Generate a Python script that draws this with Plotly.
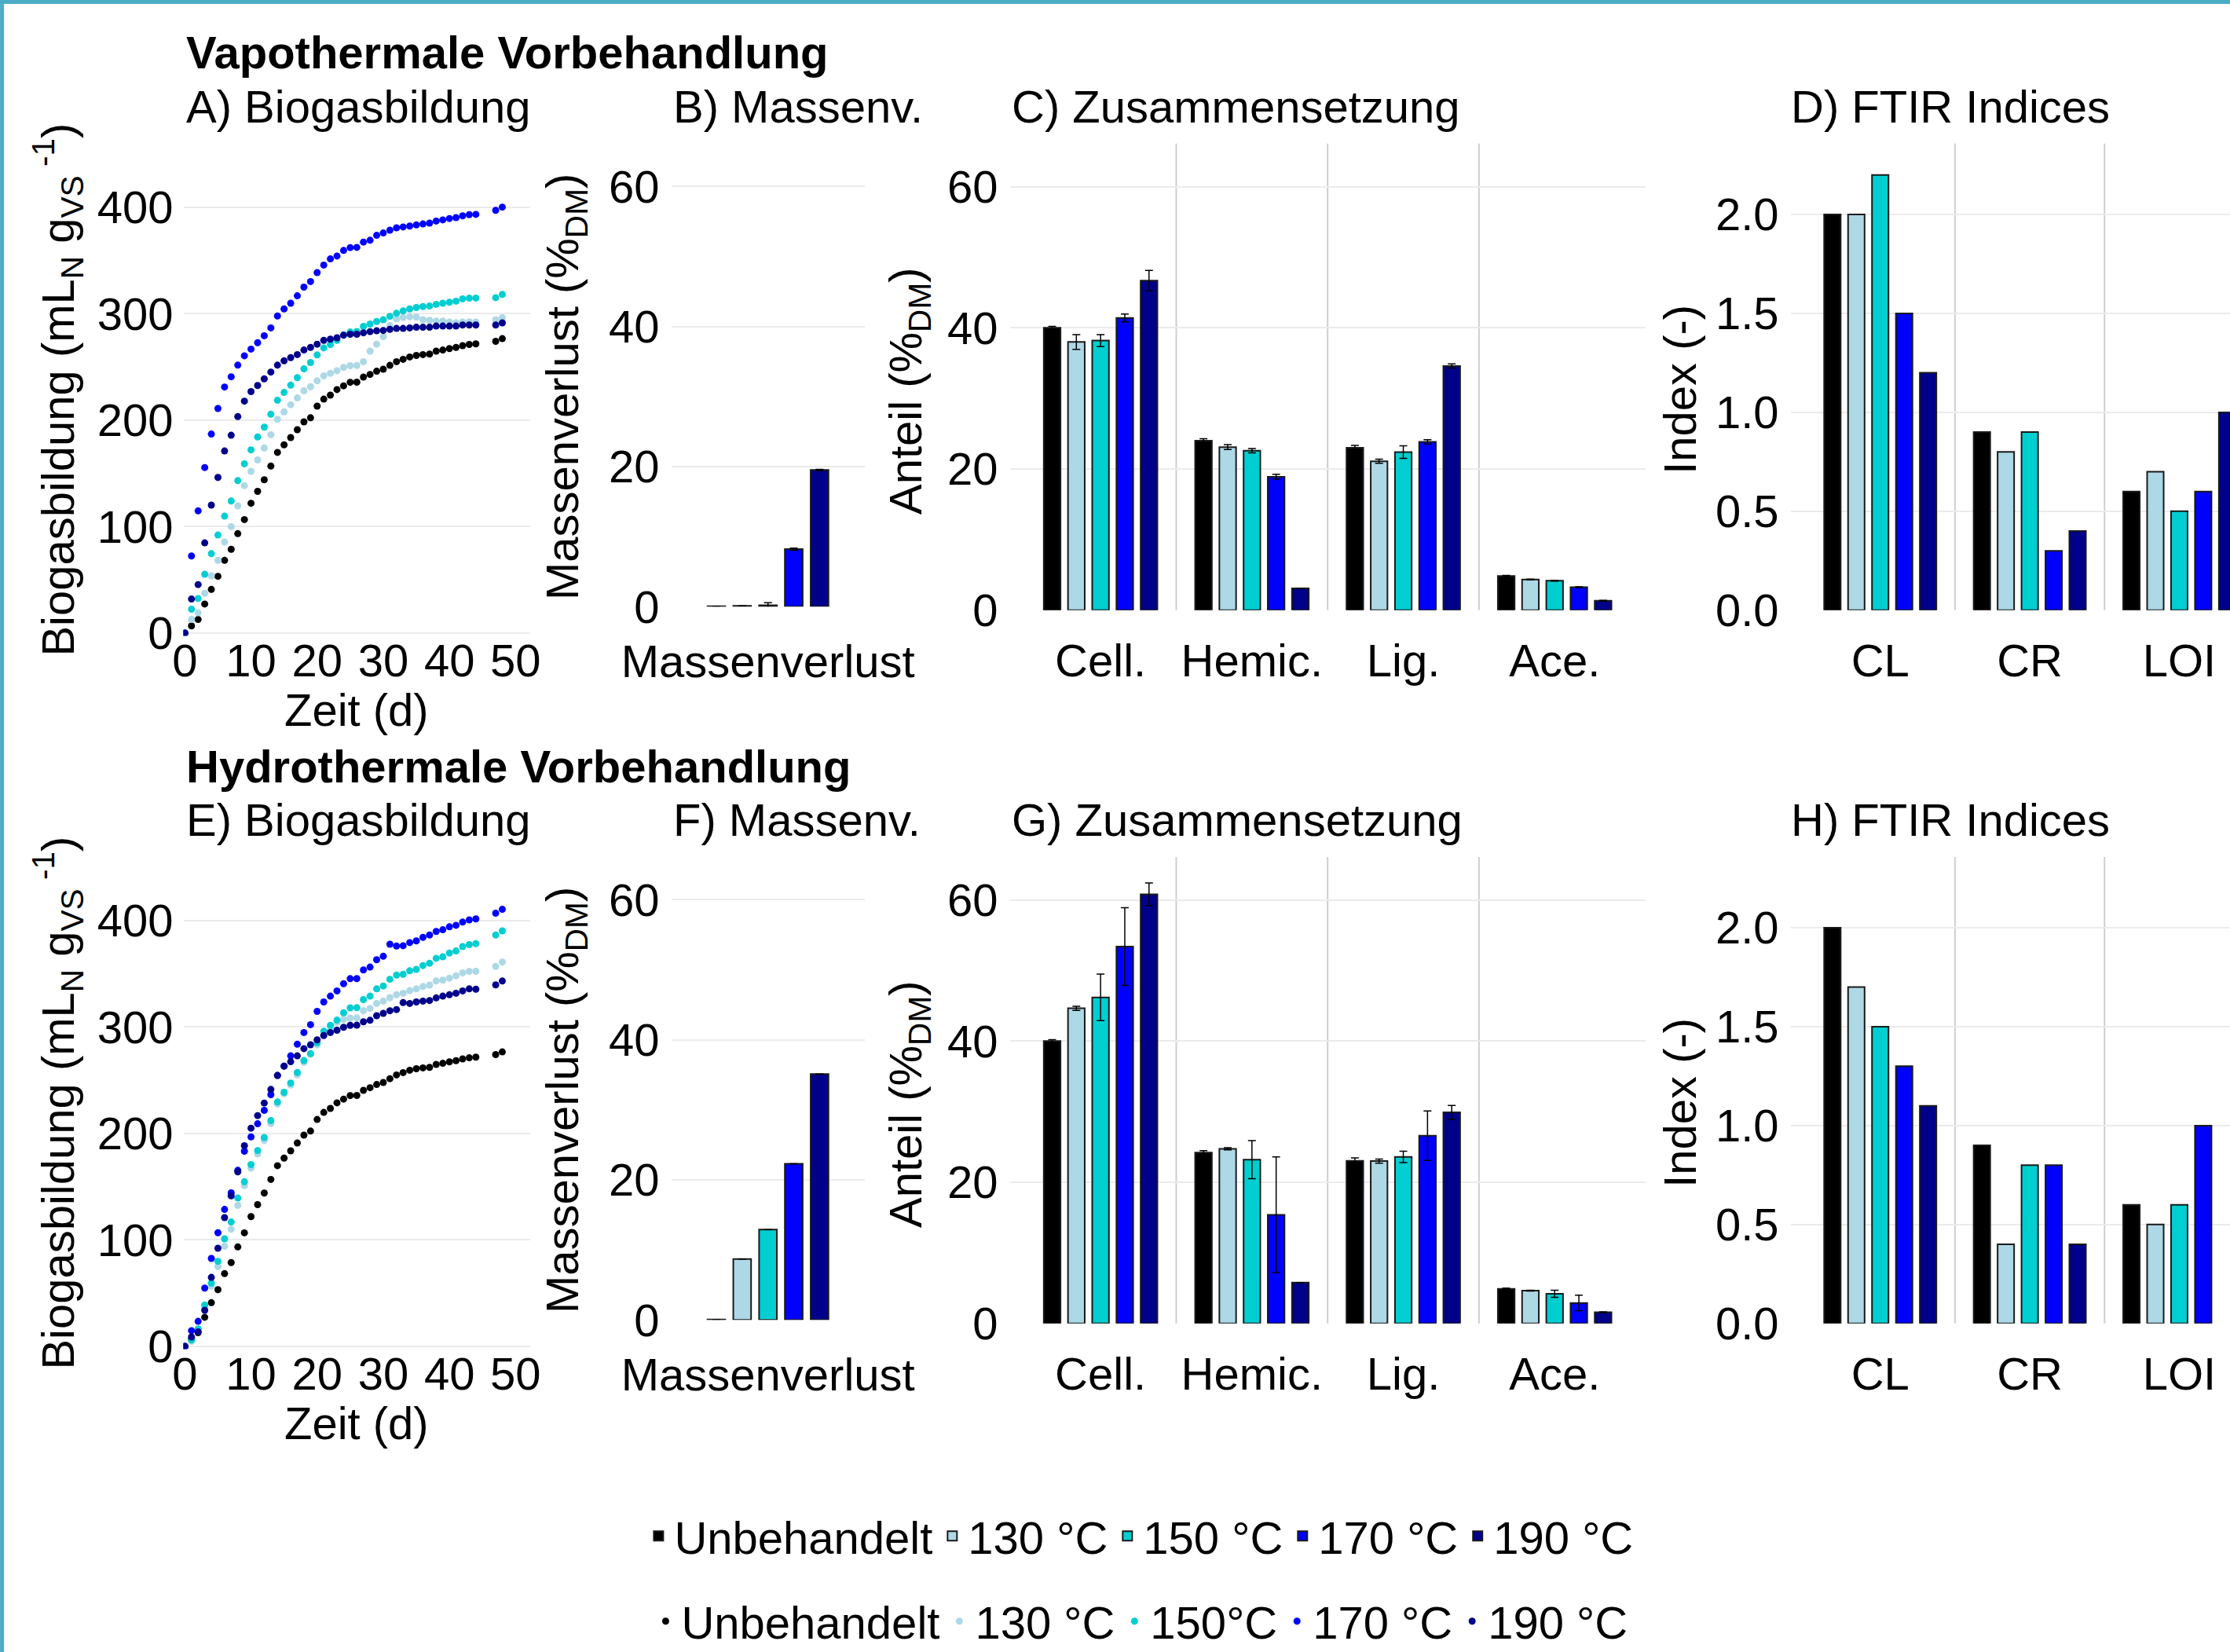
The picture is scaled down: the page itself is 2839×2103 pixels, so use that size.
import plotly.graph_objects as go

# ---------------- data ----------------
groups = ["Unbehandelt", "130 °C", "150 °C", "170 °C", "190 °C"]
point_names = ["Unbehandelt", "130 °C", "150°C", "170 °C", "190 °C"]
colors = ["#000000", "#ADD8E6", "#00CED1", "#0000FF", "#00008B"]

days = [0, 1, 2, 3, 4, 5, 6, 7, 8, 9, 10, 11, 12, 13, 14, 15, 16, 17, 18, 19,
        20, 21, 22, 23, 24, 25, 26, 27, 28, 29, 30, 31, 32, 33, 34, 35, 36, 37,
        38, 39, 40, 41, 42, 43, 44, 47, 48]

# Biogas, control (same for both pretreatments)
gas_unbeh = [0, 6.8, 12.8, 27.3, 41.0, 53.3, 68.3, 78.7, 93.4, 106.6,
             121.9, 133.1, 144.0, 156.8, 169.7, 176.8, 183.6, 191.0, 198.4, 202.2,
             213.1, 219.7, 223.5, 228.7, 232.2, 235.5, 235.6, 240.4, 242.9, 245.9,
             247.8, 251.4, 254.9, 257.1, 259.3, 260.7, 261.5, 262.0, 264.8, 265.8,
             267.2, 268.3, 269.9, 271.0, 271.6, 274.0, 276.5]
# Vapothermal
gas_vap_130 = [0, 12.8, 19.1, 37.4, 53.8, 68.3, 85.5, 100.0, 119.4, 138.5,
               151.9, 162.6, 173.8, 186.3, 200.8, 207.7, 214.5, 220.8, 227.6, 231.4,
               236.9, 241.5, 244.0, 246.4, 249.5, 251.1, 251.3, 254.9, 264.8, 271.3,
               278.4, 288.8, 295.1, 296.4, 297.0, 296.7, 294.3, 293.7, 292.9, 292.9,
               292.1, 291.5, 292.1, 292.3, 292.1, 294.3, 296.2]
gas_vap_150 = [0, 22.4, 32.5, 55.2, 74.6, 92.1, 109.8, 124.0, 143.2, 159.0,
               172.1, 184.2, 193.4, 205.5, 218.6, 226.0, 232.8, 239.9, 248.1, 254.1,
               261.2, 267.8, 271.0, 274.9, 279.8, 282.8, 283.3, 288.0, 290.2, 292.6,
               294.3, 297.5, 300.3, 302.5, 304.4, 305.7, 306.6, 307.1, 308.7, 309.8,
               310.7, 311.7, 313.9, 314.5, 314.6, 315.0, 318.0]
gas_vap_170 = [0, 72.4, 114.8, 155.5, 186.9, 210.9, 231.1, 240.7, 251.6, 260.4,
               266.7, 272.7, 279.2, 286.6, 297.8, 304.4, 309.8, 316.7, 324.9, 330.1,
               338.5, 345.6, 351.4, 354.1, 359.3, 362.0, 362.2, 367.2, 368.9, 373.5,
               375.7, 378.4, 380.6, 381.4, 382.2, 383.3, 384.2, 385.0, 386.9, 388.0,
               389.3, 390.2, 391.8, 392.9, 393.2, 397.0, 400.0]
gas_vap_190 = [0, 32.0, 45.6, 84.7, 120.2, 146.2, 171.0, 185.8, 203.3, 217.8,
               226.8, 232.5, 238.8, 245.1, 251.6, 255.7, 258.7, 261.5, 265.8, 268.3,
               271.3, 274.9, 276.0, 277.3, 279.8, 280.6, 280.6, 282.0, 283.1, 283.9,
               284.2, 285.2, 286.1, 286.1, 286.6, 287.2, 287.2, 287.2, 288.3, 288.3,
               288.3, 288.3, 289.3, 289.3, 289.3, 289.3, 291.3]
# Hydrothermal
gas_hyd_130 = [0, 4.7, 14.8, 36.1, 56.6, 75.0, 94.1, 110.0, 132.4, 151.0,
               167.4, 180.6, 193.4, 209.3, 227.6, 237.2, 245.4, 255.0, 266.8, 274.1,
               283.2, 292.7, 297.4, 304.2, 307.0, 308.3, 308.4, 315.2, 317.4, 322.0,
               324.2, 327.5, 330.2, 331.6, 334.1, 335.7, 337.9, 339.3, 343.1, 343.9,
               345.8, 348.0, 350.8, 352.1, 352.2, 356.8, 360.9]
gas_hyd_150 = [0, 6.0, 16.4, 38.9, 59.4, 79.9, 101.0, 116.8, 139.3, 154.6,
               170.7, 183.9, 196.2, 212.0, 229.5, 238.6, 247.3, 257.2, 268.4, 275.0,
               285.1, 296.0, 301.5, 306.4, 313.3, 317.9, 318.0, 325.6, 328.9, 335.7,
               338.4, 344.7, 348.6, 349.4, 352.7, 354.0, 357.6, 359.8, 364.4, 365.8,
               369.4, 371.3, 375.4, 377.3, 378.1, 386.3, 390.2]
gas_hyd_170 = [0, 14.8, 23.5, 54.7, 82.6, 106.7, 128.6, 144.2, 165.3, 183.3,
               196.7, 209.0, 221.6, 236.4, 254.4, 263.2, 272.8, 283.7, 294.7, 302.1,
               314.6, 323.4, 328.9, 333.8, 340.6, 345.3, 345.4, 353.5, 356.2, 363.1,
               366.3, 377.6, 375.9, 376.2, 379.2, 380.8, 384.1, 386.3, 389.6, 391.2,
               394.0, 395.4, 398.4, 400.5, 401.4, 406.8, 410.4]
gas_hyd_190 = [0, 8.8, 13.7, 33.9, 64.8, 92.2, 120.9, 141.4, 163.9, 188.5,
               204.9, 216.7, 228.5, 241.3, 254.4, 263.2, 267.3, 272.8, 279.6, 283.2,
               287.8, 291.9, 294.7, 296.9, 299.6, 301.5, 301.6, 304.8, 306.2, 310.5,
               312.7, 315.2, 316.3, 322.8, 322.0, 323.4, 324.2, 324.8, 327.2, 328.9,
               330.2, 331.6, 333.8, 335.7, 335.4, 339.5, 343.1]

# Mass loss (%DM)
mass_cat = ["Massenverlust"]
mass_vap = [0.05, 0.1, 0.2, 8.2, 19.5]
mass_vap_err = [0.0, 0.0, 0.35, 0.15, 0.1]
mass_hyd = [0.05, 8.7, 12.9, 22.3, 35.1]
mass_hyd_err = [0.0, 0.0, 0.0, 0.0, 0.0]

# Composition (%DM)
comp_cat = ["Cell.", "Hemic.", "Lig.", "Ace."]
comp_vap = [[40.0, 24.0, 23.0, 4.83],
            [38.0, 23.1, 21.1, 4.35],
            [38.2, 22.6, 22.4, 4.17],
            [41.4, 18.9, 23.85, 3.26],
            [46.7, 3.1, 34.6, 1.33]]
comp_vap_err = [[0.2, 0.3, 0.35, 0.1],
                [1.05, 0.35, 0.3, 0.05],
                [0.85, 0.3, 0.9, 0.05],
                [0.55, 0.35, 0.3, 0.05],
                [1.45, 0.0, 0.3, 0.05]]
comp_hyd = [[40.0, 24.2, 23.05, 4.9],
            [44.65, 24.75, 23.0, 4.65],
            [46.2, 23.2, 23.6, 4.2],
            [53.4, 15.4, 26.6, 2.9],
            [60.8, 5.8, 29.9, 1.6]]
comp_hyd_err = [[0.2, 0.3, 0.4, 0.1],
                [0.3, 0.15, 0.3, 0.05],
                [3.3, 2.7, 0.8, 0.5],
                [5.5, 8.2, 3.5, 1.1],
                [1.6, 0.0, 1.0, 0.05]]

# FTIR indices
ftir_cat = ["CL", "CR", "LOI"]
ftir_vap = [[2.0, 0.9, 0.6],
            [2.0, 0.8, 0.7],
            [2.2, 0.9, 0.5],
            [1.5, 0.3, 0.6],
            [1.2, 0.4, 1.0]]
ftir_hyd = [[2.0, 0.9, 0.6],
            [1.7, 0.4, 0.5],
            [1.5, 0.8, 0.6],
            [1.3, 0.8, 1.0],
            [1.1, 0.4, None]]

# ---------------- layout helpers ----------------
W, H = 2839, 2103
SW, SH = 1568.0, 1161.5
FONT = "Liberation Sans, Arial, Helvetica, sans-serif"
FS = 58
ROW_OFF = 501.5


def px(x):
    return x / SW


def py(y):
    return 1 - y / SH


fig = go.Figure()

gas_vap = [gas_unbeh, gas_vap_130, gas_vap_150, gas_vap_170, gas_vap_190]
gas_hyd = [gas_unbeh, gas_hyd_130, gas_hyd_150, gas_hyd_170, gas_hyd_190]


def ax(k):
    return ("x" if k == 1 else f"x{k}"), ("y" if k == 1 else f"y{k}")


def add_points(k, series, show):
    xa, ya = ax(k)
    for i, s in enumerate(series):
        fig.add_trace(go.Scatter(
            x=days, y=s, mode="markers", name=point_names[i],
            marker=dict(color=colors[i], size=9, line=dict(width=0)),
            xaxis=xa, yaxis=ya, showlegend=show, legend="legend2"))


def add_bars(k, cats, vals, errs, show):
    xa, ya = ax(k)
    for i in range(5):
        v = vals[i] if isinstance(vals[i], list) else [vals[i]]
        e = None
        if errs is not None:
            e = errs[i] if isinstance(errs[i], list) else [errs[i]]
        fig.add_trace(go.Bar(
            x=cats, y=v, name=groups[i],
            marker=dict(color=colors[i], line=dict(color="#1a1a1a", width=2)),
            error_y=(dict(type="data", array=e, visible=True, color="#000000",
                          thickness=1.5, width=5) if e is not None else None),
            xaxis=xa, yaxis=ya, showlegend=show, legend="legend"))


add_points(1, gas_vap, True)
add_bars(2, mass_cat, mass_vap, mass_vap_err, True)
add_bars(3, comp_cat, comp_vap, comp_vap_err, False)
add_bars(4, ftir_cat, ftir_vap, None, False)
add_points(5, gas_hyd, False)
add_bars(6, mass_cat, mass_hyd, mass_hyd_err, False)
add_bars(7, comp_cat, comp_hyd, comp_hyd_err, False)
add_bars(8, ftir_cat, ftir_hyd, None, False)

tickfont = dict(family=FONT, size=FS, color="#000000")
grid = dict(showgrid=True, gridcolor="#EBEBEB", gridwidth=2, zeroline=False,
            showline=False, ticks="", tickfont=tickfont, automargin=False)

# panel geometry in reference grid units: x range, y top, y bottom
panels = {
    "A": dict(x=(129, 373), y=(101, 447)),
    "B": dict(x=(472, 608), y=(101, 426.5)),
    "C": dict(x=(710, 1157), y=(101, 429)),
    "D": dict(x=(1259, 1568), y=(101, 429)),
}
order = ["A", "B", "C", "D"]
layout = {}
for row in range(2):
    off = ROW_OFF * row
    for j, key in enumerate(order):
        k = row * 4 + j + 1
        p = panels[key]
        xd = [px(p["x"][0]), min(1.0, px(p["x"][1]))]
        yd = [py(p["y"][1] + off), py(p["y"][0] + off)]
        xk = "xaxis" if k == 1 else f"xaxis{k}"
        yk = "yaxis" if k == 1 else f"yaxis{k}"
        ya = "y" if k == 1 else f"y{k}"
        xa = "x" if k == 1 else f"x{k}"
        if key == "A":
            xax = dict(grid, showgrid=False, domain=xd, anchor=ya, range=[-0.215, 52.26],
                       tickvals=[0, 10, 20, 30, 40, 50], ticklabelstandoff=-7)
            yax = dict(grid, domain=yd, anchor=xa, range=[-2.5, 459.6],
                       tickvals=[0, 100, 200, 300, 400], ticklabelstandoff=12)
        elif key == "B":
            xax = dict(grid, showgrid=False, domain=xd, anchor=ya, type="category",
                       range=[-0.6, 0.6], ticklabelstandoff=31)
            yax = dict(grid, domain=yd, anchor=xa, range=[0, 66.1],
                       tickvals=[0, 20, 40, 60], ticklabelstandoff=14)
        elif key == "C":
            xax = dict(grid, showgrid=False, domain=xd, anchor=ya, type="category",
                       range=[-0.6, 3.6], ticklabelstandoff=25)
            yax = dict(grid, domain=yd, anchor=xa, range=[0, 66.1],
                       tickvals=[0, 20, 40, 60], ticklabelstandoff=14)
        else:
            xax = dict(grid, showgrid=False, domain=xd, anchor=ya, type="category",
                       range=[-0.6, 2.339], ticklabelstandoff=25)
            yax = dict(grid, domain=yd, anchor=xa, range=[0, 2.358],
                       tickvals=[0, 0.5, 1.0, 1.5, 2.0], tickformat=".1f",
                       ticklabelstandoff=14)
        layout[xk] = xax
        layout[yk] = yax

# separators between categories
shapes = []
for k, seps in [(3, [0.5, 1.5, 2.5]), (7, [0.5, 1.5, 2.5]), (4, [0.5, 1.5]), (8, [0.5, 1.5])]:
    for s in seps:
        shapes.append(dict(type="line", xref=f"x{k}", yref=f"y{k} domain",
                           x0=s, x1=s, y0=0, y1=1, layer="below",
                           line=dict(color="#CFCFCF", width=2)))
# frame (left and top edge)
shapes.append(dict(type="line", xref="paper", yref="paper", x0=0.0009, x1=0.0009,
                   y0=0, y1=1, line=dict(color="#4BACC6", width=5)))
shapes.append(dict(type="line", xref="paper", yref="paper", x0=0, x1=1,
                   y0=0.9988, y1=0.9988, line=dict(color="#4BACC6", width=5)))

ann = []


def text(x, y, s, bold=False, angle=0, xanchor="left"):
    ann.append(dict(x=px(x), y=py(y), xref="paper", yref="paper", text=("<b>%s</b>" % s if bold else s),
                    showarrow=False, xanchor=xanchor, yanchor="middle", textangle=angle,
                    font=dict(family=FONT, size=FS, color="#000000")))


for row, (head, letters) in enumerate([("Vapothermale Vorbehandlung", "ABCD"),
                                       ("Hydrothermale Vorbehandlung", "EFGH")]):
    off = ROW_OFF * row
    text(130, 37 + off, head, bold=True)
    text(130, 75 + off, letters[0] + ") Biogasbildung")
    text(472, 75 + off, letters[1] + ") Massenv.")
    text(710, 75 + off, letters[2] + ") Zusammensetzung")
    text(1258, 75 + off, letters[3] + ") FTIR Indices")
    text(40.6, 274 + off, "Biogasbildung (mL<sub>N</sub> g<sub>VS</sub><sup> -1</sup>)", angle=-90, xanchor="center")
    text(398, 272 + off, "Massenverlust (%<sub>DM</sub>)", angle=-90, xanchor="center")
    text(639, 274.5 + off, "Anteil (%<sub>DM</sub>)", angle=-90, xanchor="center")
    text(1181, 273.7 + off, "Index (-)", angle=-90, xanchor="center")
    text(251, 499 + off, "Zeit (d)", xanchor="center")

legfont = dict(family=FONT, size=FS, color="#000000")
layout.update(
    width=W, height=H, autosize=False,
    margin=dict(l=0, r=0, t=0, b=0, pad=0, autoexpand=False),
    paper_bgcolor="#FFFFFF", plot_bgcolor="#FFFFFF",
    barmode="group", bargap=0.2, bargroupgap=0.31,
    font=dict(family=FONT, size=FS, color="#000000"),
    shapes=shapes, annotations=ann,
    legend=dict(orientation="h", x=px(452), y=py(1080), xanchor="left", yanchor="middle",
                font=legfont, bgcolor="rgba(0,0,0,0)", borderwidth=0),
    legend2=dict(orientation="h", x=px(457), y=py(1140), xanchor="left", yanchor="middle",
                 font=legfont, bgcolor="rgba(0,0,0,0)", borderwidth=0),
)
fig.update_layout(**layout)

fig.write_html("out.html", config={"displayModeBar": False},
               post_script="document.body.style.margin='0';")
